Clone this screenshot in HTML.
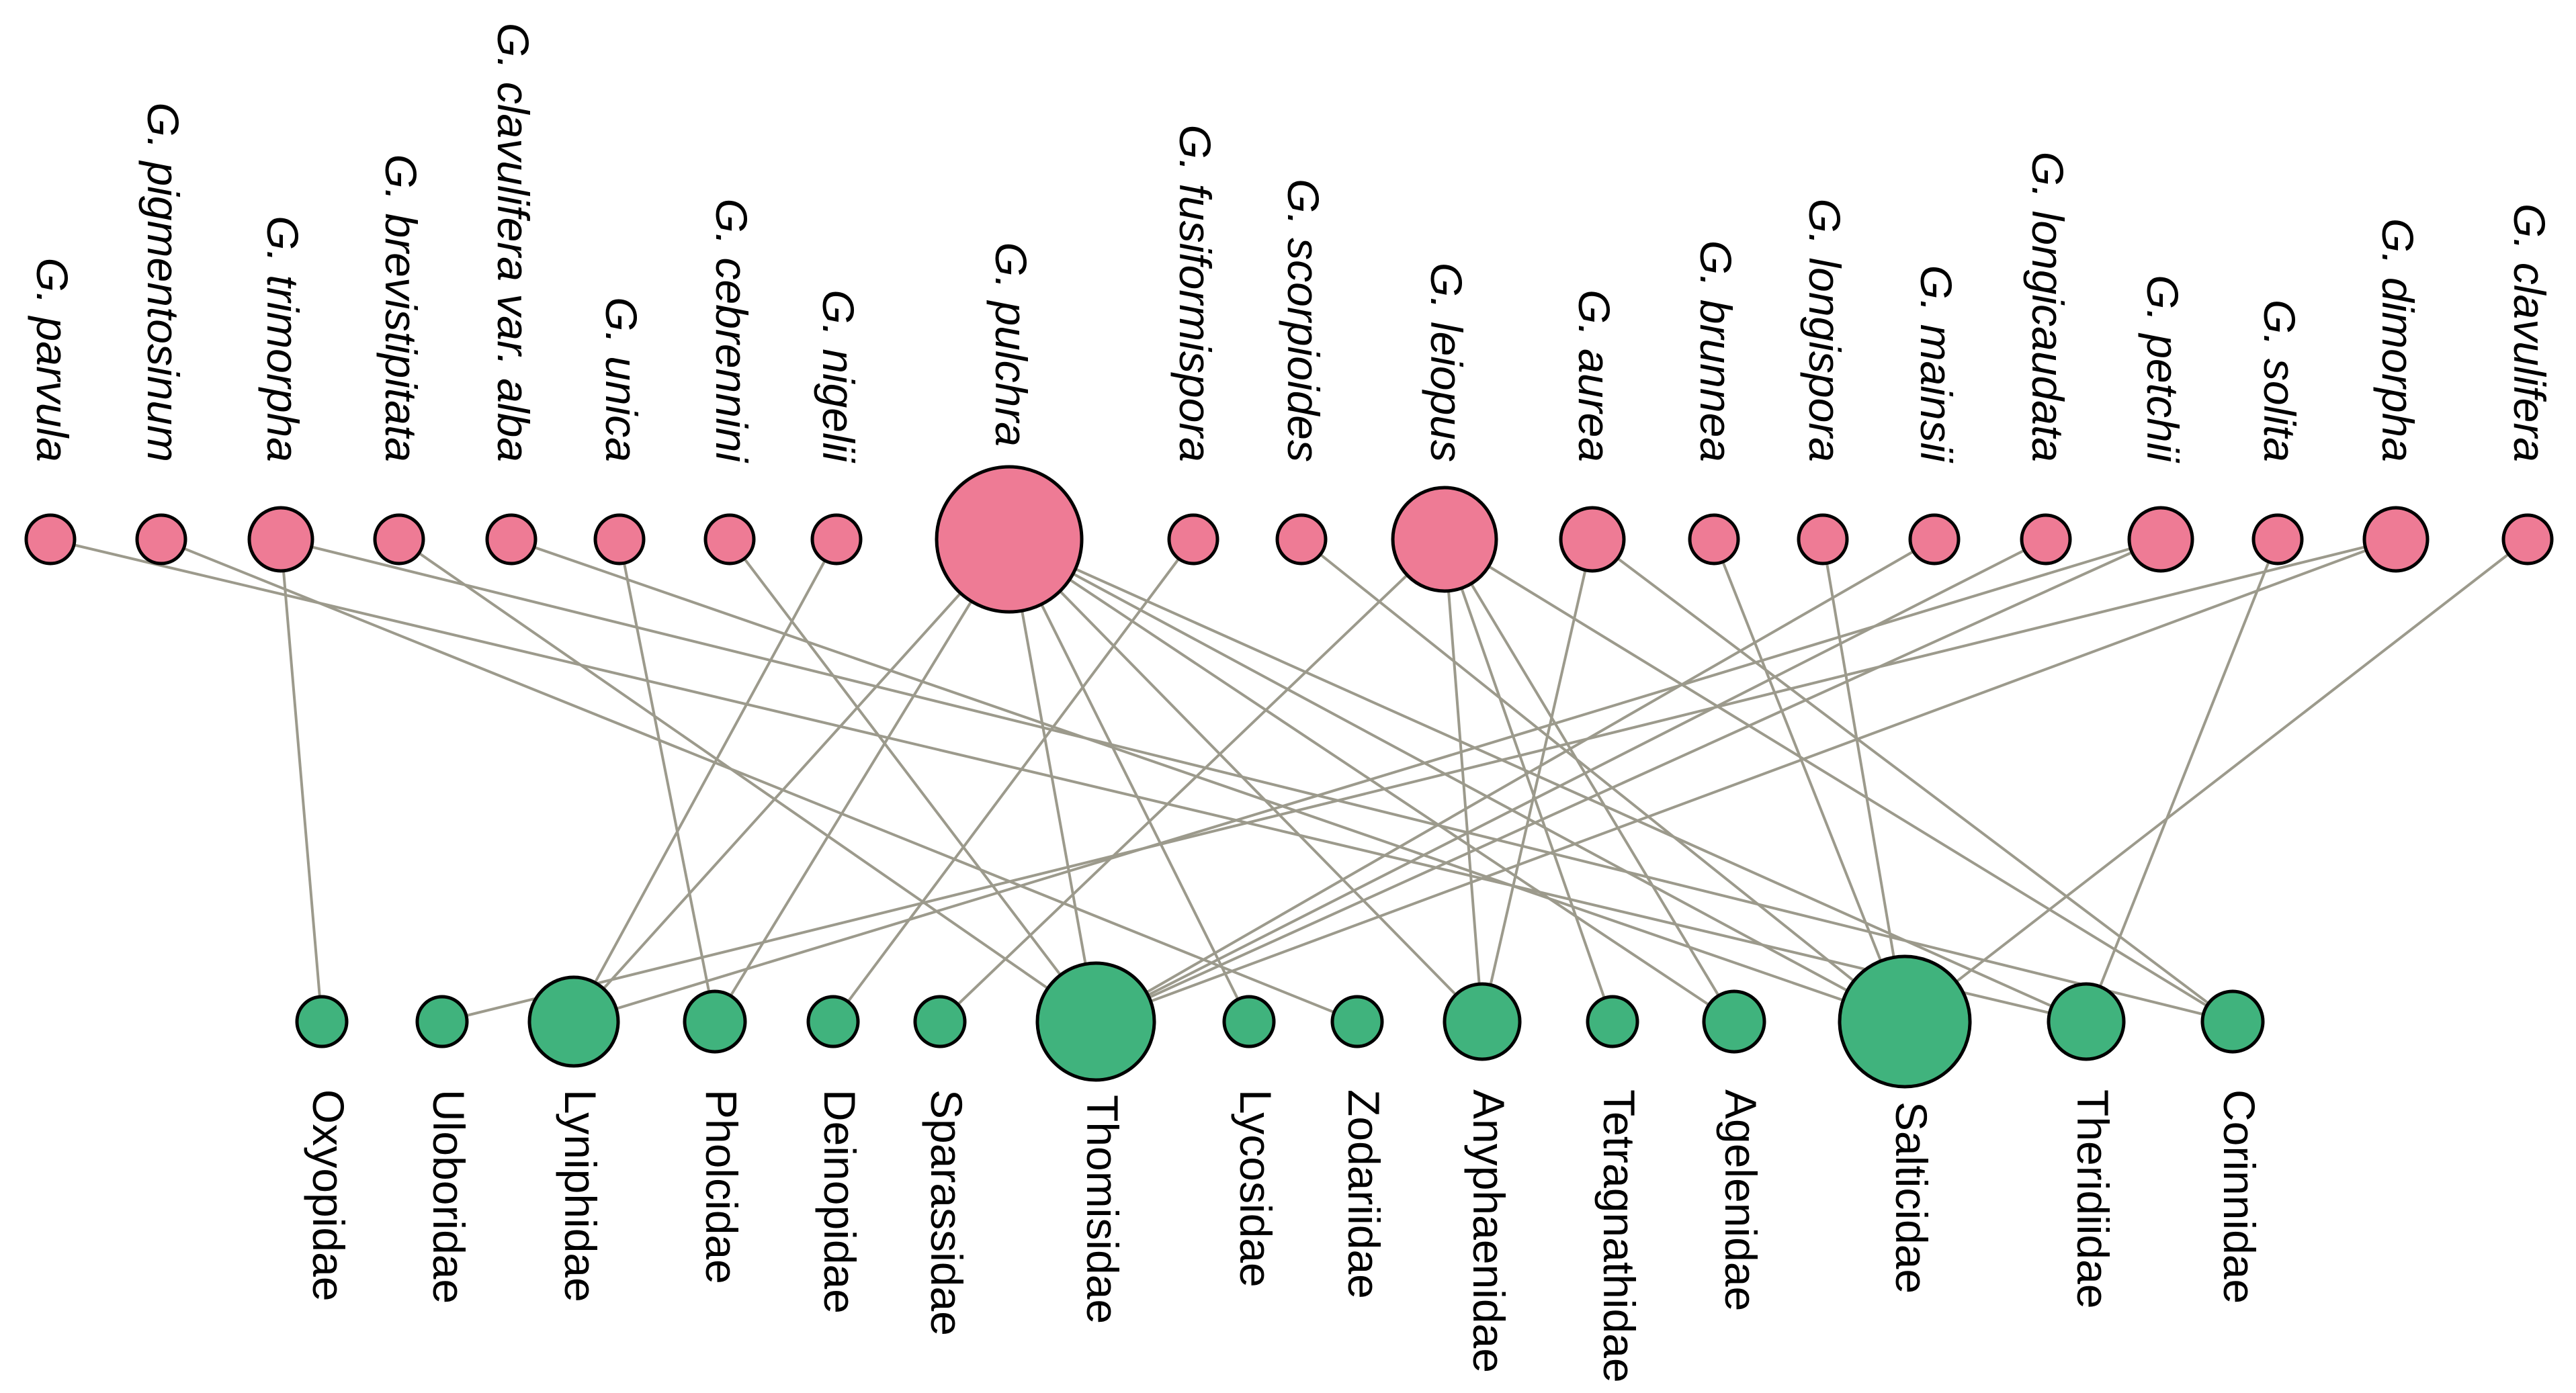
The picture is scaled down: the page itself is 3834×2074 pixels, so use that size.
<!DOCTYPE html>
<html><head><meta charset="utf-8"><style>
html,body{margin:0;padding:0;background:#fff;}
svg{display:block;}
text{font-family:"Liberation Sans",Arial,sans-serif;font-size:66px;fill:#000;}
</style></head><body>
<svg id="chart" width="3834" height="2074" viewBox="0 0 3834 2074" xmlns="http://www.w3.org/2000/svg">
<g id="edges"></g>
<g id="nodes"></g>
<g id="labels"></g>
</svg>
<script>
const fungi = ["G. parvula","G. pigmentosinum","G. trimorpha","G. brevistipitata","G. clavulifera var. alba","G. unica","G. cebrennini","G. nigelii","G. pulchra","G. fusiformispora","G. scorpioides","G. leiopus","G. aurea","G. brunnea","G. longispora","G. mainsii","G. longicaudata","G. petchii","G. solita","G. dimorpha","G. clavulifera"];
const fungiSize = [1,1,2,1,1,1,1,1,8,1,1,5,2,1,1,1,1,2,1,2,1];
const families = ["Oxyopidae","Uloboridae","Lyniphidae","Pholcidae","Deinopidae","Sparassidae","Thomisidae","Lycosidae","Zodariidae","Anyphaenidae","Tetragnathidae","Agelenidae","Salticidae","Theridiidae","Corinnidae"];
const familySize = [1,1,4,2,1,1,7,1,1,3,1,2,8,3,2];
const links = [
 ["G. parvula","Theridiidae"],["G. pigmentosinum","Zodariidae"],["G. trimorpha","Oxyopidae"],["G. trimorpha","Corinnidae"],
 ["G. brevistipitata","Thomisidae"],["G. clavulifera var. alba","Salticidae"],["G. unica","Pholcidae"],["G. cebrennini","Thomisidae"],
 ["G. nigelii","Lyniphidae"],["G. pulchra","Lyniphidae"],["G. pulchra","Pholcidae"],["G. pulchra","Thomisidae"],["G. pulchra","Lycosidae"],
 ["G. pulchra","Anyphaenidae"],["G. pulchra","Agelenidae"],["G. pulchra","Salticidae"],["G. pulchra","Theridiidae"],
 ["G. fusiformispora","Deinopidae"],["G. scorpioides","Salticidae"],["G. leiopus","Sparassidae"],["G. leiopus","Anyphaenidae"],
 ["G. leiopus","Tetragnathidae"],["G. leiopus","Agelenidae"],["G. leiopus","Corinnidae"],["G. aurea","Anyphaenidae"],["G. aurea","Corinnidae"],
 ["G. brunnea","Salticidae"],["G. longispora","Salticidae"],["G. mainsii","Thomisidae"],["G. longicaudata","Thomisidae"],
 ["G. petchii","Thomisidae"],["G. petchii","Lyniphidae"],["G. solita","Theridiidae"],["G. dimorpha","Uloboridae"],["G. dimorpha","Thomisidae"],
 ["G. clavulifera","Salticidae"]
];
// layout (pixel positions)
const topX = [75,240,418,594,761,922,1086,1245,1502,1776,1937,2150,2370,2551,2713,2879,3045,3216,3390,3566,3762];
const botX = [479,658,854,1064,1240,1399,1631,1859,2020,2206,2400,2581,2835,3105,3323];
const topY = 803, botY = 1521;
const radTop = {1:36,2:47,5:77,8:108};
const radBot = {1:37,2:45,3:56,4:66,7:87,8:97};
const NS='http://www.w3.org/2000/svg';
const eg=document.getElementById('edges'), ng=document.getElementById('nodes'), lg=document.getElementById('labels');
function mk(t,a){const e=document.createElementNS(NS,t);for(const k in a)e.setAttribute(k,a[k]);return e;}
links.forEach(l=>{
 const i=fungi.indexOf(l[0]), j=families.indexOf(l[1]);
 const e=mk('line',{x1:topX[i],y1:topY,x2:botX[j],y2:botY,stroke:'#9c9a8c','stroke-width':4});
 
 
 eg.appendChild(e);
});
fungi.forEach((n,i)=>{
 const r=radTop[fungiSize[i]];
 const c=mk('ellipse',{cx:topX[i],cy:topY,rx:r,ry:r,fill:'#ee7b95',stroke:'#000','stroke-width':5});
 
 
 ng.appendChild(c);
 const y=Math.min(688,topY-r-30);
 const t=mk('text',{x:0,y:0,'text-anchor':'end',dy:'0.3em','font-style':'italic',transform:`translate(${topX[i]},${y}) rotate(90)`});
 t.textContent=n;
 
 
 lg.appendChild(t);
});
families.forEach((n,i)=>{
 const r=radBot[familySize[i]];
 const c=mk('ellipse',{cx:botX[i],cy:botY,rx:r,ry:r,fill:'#40b37d',stroke:'#000','stroke-width':5});
 
 
 ng.appendChild(c);
 const y=Math.max(1622,botY+r+22);
 const t=mk('text',{x:0,y:0,'text-anchor':'start',dy:'0.2em',transform:`translate(${botX[i]},${y}) rotate(90)`});
 t.textContent=n;
 
 
 lg.appendChild(t);
});
</script>
</body></html>
